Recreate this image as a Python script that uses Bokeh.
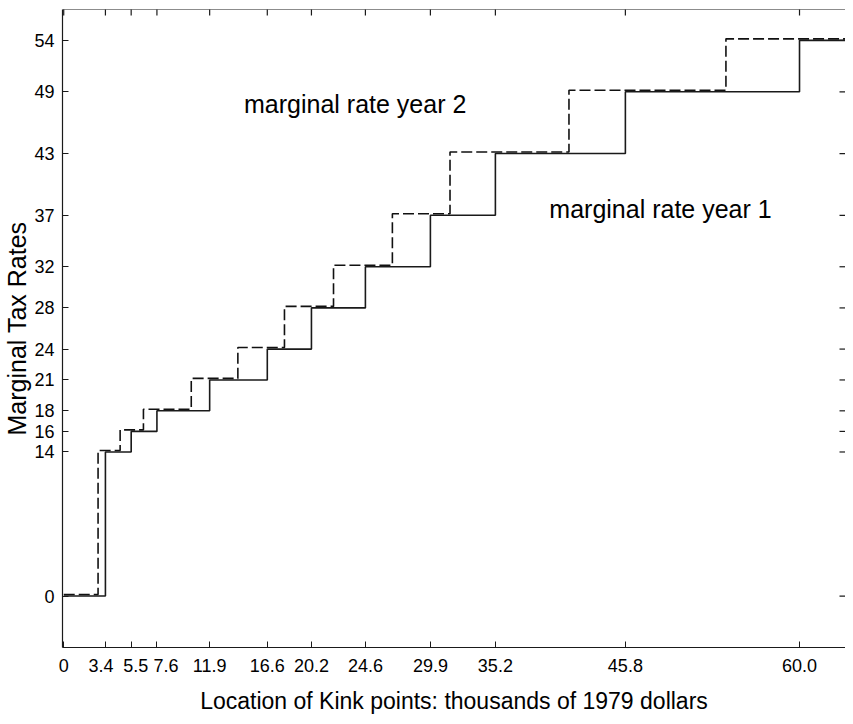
import math
from bokeh.plotting import figure
from bokeh.models import FixedTicker, Label, Range1d, Span
from bokeh.embed import file_html
from bokeh.resources import INLINE

# ---- data ----
kinks_year1 = [0, 3.4, 5.5, 7.6, 11.9, 16.6, 20.2, 24.6, 29.9, 35.2, 45.8, 60.0]
kinks_year2 = [0, 2.8, 4.6, 6.5, 10.4, 14.2, 18.0, 22.0, 26.8, 31.5, 41.2, 54.0]
rates = [0, 14, 16, 18, 21, 24, 28, 32, 37, 43, 49, 54]

x_ticks = [0, 3.4, 5.5, 7.6, 11.9, 16.6, 20.2, 24.6, 29.9, 35.2, 45.8, 60.0]
x_tick_labels = ["0", "3.4", "5.5", "7.6", "11.9", "16.6", "20.2", "24.6",
                 "29.9", "35.2", "45.8", "60.0"]
y_ticks = [0, 14, 16, 18, 21, 24, 28, 32, 37, 43, 49, 54]
y_tick_labels = ["0", "14", "16", "18", "21", "24", "28", "32", "37", "43", "49", "54"]

X_START, X_END = -0.1, 63.75
Y_START, Y_END = -5, 57
FONT = "Liberation Sans"
INK = "#1a1a1a"

# the crowded labels near the origin are nudged apart as in the original
EN = "\u2002"
x_label_pad = {"3.4": ("", EN), "5.5": (EN, ""), "7.6": (EN + EN, "")}

p = figure(width=845, height=716,
           x_range=Range1d(X_START, X_END), y_range=Range1d(Y_START, Y_END),
           output_backend="svg", toolbar_location=None,
           min_border_left=61, min_border_right=0,
           min_border_top=9, min_border_bottom=68)
p.outline_line_color = None
p.xgrid.visible = False
p.ygrid.visible = False

# solid: year 1
p.step(kinks_year1 + [X_END], rates + [rates[-1]], mode="after",
       line_color=INK, line_width=1.6)
# dashed: year 2 (drawn a hair above so both are visible)
p.step(kinks_year2 + [X_END], [r + 0.15 for r in rates] + [rates[-1] + 0.15],
       mode="after", line_color="#111111", line_width=1.6, line_dash="11 4")

# top border and inward tick marks on the top and right edges
p.add_layout(Span(location=Y_END, dimension="width", line_color=INK, line_width=1.2))
p.scatter(x_ticks, [Y_END] * len(x_ticks), marker="dash", angle=math.pi / 2,
          size=12, line_color=INK, line_width=1.2)
p.scatter([X_END] * len(y_ticks), y_ticks, marker="dash",
          size=12, line_color=INK, line_width=1.2)

def style_axis(ax, ticks, labels):
    ax.ticker = FixedTicker(ticks=ticks)
    ax.major_label_overrides = {t: l for t, l in zip(ticks, labels)}
    ax.major_tick_in = 6
    ax.major_tick_out = 0
    ax.minor_tick_line_color = None
    ax.major_tick_line_color = INK
    ax.axis_line_color = INK
    ax.axis_line_width = 1.2
    ax.major_label_text_font = FONT
    ax.major_label_text_color = "black"
    ax.major_label_text_font_size = "18px"
    ax.axis_label_text_font = FONT
    ax.axis_label_text_font_style = "normal"
    ax.axis_label_text_color = "black"

xa = p.xaxis[0]
padded = [x_label_pad.get(l, ("", ""))[0] + l + x_label_pad.get(l, ("", ""))[1]
          for l in x_tick_labels]
style_axis(xa, x_ticks, padded)
xa.major_label_standoff = 8
xa.axis_label = "Location of Kink points: thousands of 1979 dollars"
xa.axis_label_text_font_size = "23px"
xa.axis_label_standoff = 9

ya = p.yaxis[0]
style_axis(ya, y_ticks, y_tick_labels)
ya.major_label_standoff = 8
ya.axis_label = "Marginal Tax Rates"
ya.axis_label_text_font_size = "25px"
ya.axis_label_standoff = 0

p.add_layout(Label(x=14.7, y=47.8, text="marginal rate year 2",
                   text_font=FONT, text_font_size="25px",
                   text_baseline="middle", text_color="black"))
p.add_layout(Label(x=39.6, y=37.6, text="marginal rate year 1",
                   text_font=FONT, text_font_size="25px",
                   text_baseline="middle", text_color="black"))

open("out.html", "w").write(file_html(p, INLINE))
